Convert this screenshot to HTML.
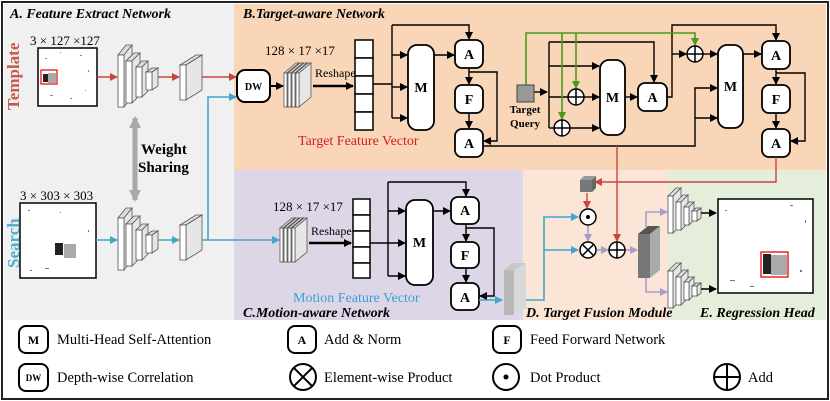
<!DOCTYPE html>
<html><head><meta charset="utf-8"><style>
html,body{margin:0;padding:0;background:#fff;}
svg{display:block;font-family:"Liberation Serif",serif;}
.b{font-weight:bold;}
.t{font-weight:bold;font-style:italic;font-size:14px;}
</style></head><body>
<svg width="830" height="401" viewBox="0 0 830 401" xmlns="http://www.w3.org/2000/svg">
<defs>
<marker id="k" markerWidth="8" markerHeight="8" refX="7" refY="4" orient="auto" markerUnits="userSpaceOnUse"><path d="M0,0 L8,4 L0,8 z" fill="#000"/></marker>
<marker id="r" markerWidth="8" markerHeight="8" refX="7" refY="4" orient="auto" markerUnits="userSpaceOnUse"><path d="M0,0 L8,4 L0,8 z" fill="#c8463c"/></marker>
<marker id="c" markerWidth="8" markerHeight="8" refX="7" refY="4" orient="auto" markerUnits="userSpaceOnUse"><path d="M0,0 L8,4 L0,8 z" fill="#3fa8c8"/></marker>
<marker id="g" markerWidth="8" markerHeight="8" refX="7" refY="4" orient="auto" markerUnits="userSpaceOnUse"><path d="M0,0 L8,4 L0,8 z" fill="#4a9a1c"/></marker>
<marker id="p" markerWidth="8" markerHeight="8" refX="7" refY="4" orient="auto" markerUnits="userSpaceOnUse"><path d="M0,0 L8,4 L0,8 z" fill="#a89ccc"/></marker>
<marker id="gr" markerWidth="12" markerHeight="12" refX="10" refY="6" orient="auto" markerUnits="userSpaceOnUse"><path d="M0,0 L12,6 L0,12 z" fill="#a8a8a8"/></marker>
</defs>
<!-- backgrounds -->
<rect x="0" y="0" width="830" height="401" fill="#fff"/>
<rect x="4" y="4" width="230" height="316" fill="#f0f0f0"/>
<rect x="234" y="4" width="592" height="166" fill="#fad6b8"/>
<rect x="234" y="170" width="289" height="150" fill="#ddd6e6"/>
<rect x="523" y="170" width="145" height="150" fill="#fbe5d6"/>
<rect x="668" y="170" width="158" height="150" fill="#e4eedb"/>
<rect x="2" y="2" width="826" height="397" fill="none" stroke="#222" stroke-width="2"/>

<!-- titles -->
<text x="10" y="18" class="t">A. Feature Extract Network</text>
<text x="243" y="18" class="t">B.Target-aware Network</text>
<text x="243" y="317" class="t">C.Motion-aware Network</text>
<text x="526" y="317" class="t">D. Target Fusion Module</text>
<text x="700" y="317" class="t">E. Regression Head</text>

<!-- Template / Search labels -->
<text transform="translate(19,110) rotate(-90)" font-size="17" class="b" fill="#c8584c">Template</text>
<text transform="translate(19,268) rotate(-90)" font-size="17" class="b" fill="#4ab0cc">Search</text>
<text x="30" y="45" font-size="13">3 × 127 ×127</text>
<text x="20" y="200" font-size="13">3 × 303 × 303</text>

<!-- template image -->
<rect x="38" y="48" width="59" height="58" fill="#fff" stroke="#000" stroke-width="1.5"/>
<g fill="#888"><rect x="45" y="58" width="2" height="1"/><rect x="60" y="52" width="1" height="1"/><rect x="80" y="55" width="2" height="1"/><rect x="88" y="70" width="1" height="2"/><rect x="50" y="95" width="3" height="1"/><rect x="70" y="98" width="2" height="1"/><rect x="85" y="90" width="1" height="1"/></g>
<rect x="43" y="74" width="5" height="8" fill="#222"/><rect x="48" y="73" width="8" height="10" fill="#aaa"/>
<rect x="41" y="70" width="16" height="14" fill="none" stroke="#e00" stroke-width="1.2"/>
<!-- search image -->
<rect x="20" y="203" width="76" height="75" fill="#fff" stroke="#000" stroke-width="1.5"/>
<rect x="55" y="243" width="8" height="12" fill="#222"/><rect x="64" y="244" width="12" height="14" fill="#aaa"/>
<g fill="#777"><rect x="28" y="210" width="2" height="1"/><rect x="60" y="212" width="1" height="1"/><rect x="88" y="230" width="1" height="2"/><rect x="45" y="268" width="4" height="1"/><rect x="30" y="270" width="2" height="1"/></g>

<!-- backbone template -->
<g stroke="#555" stroke-width="0.8">
<polygon points="118,55 126,45 132,45 124,55" fill="#ddd"/><polygon points="124,55 132,45 132,97 124,107" fill="#e6e6e6"/><rect x="118" y="55" width="6" height="52" fill="#fff"/>
<polygon points="126,61 134,53 140,53 132,61" fill="#ddd"/><polygon points="132,61 140,53 140,95 132,103" fill="#e6e6e6"/><rect x="126" y="61" width="6" height="42" fill="#fff"/>
<polygon points="136,67 142,61 148,61 142,67" fill="#ddd"/><polygon points="142,67 148,61 148,91 142,97" fill="#e6e6e6"/><rect x="136" y="67" width="6" height="30" fill="#fff"/>
<polygon points="146,72 152,68 158,68 152,72" fill="#ddd"/><polygon points="152,72 158,68 158,86 152,90" fill="#e6e6e6"/><rect x="146" y="72" width="6" height="18" fill="#fff"/>
<!-- single plate -->
<polygon points="180,65 196,55 202,55 186,65" fill="#ddd"/><polygon points="186,65 202,55 202,90 186,100" fill="#e6e6e6"/><rect x="180" y="65" width="6" height="35" fill="#fff"/>
</g>
<!-- backbone search -->
<g stroke="#555" stroke-width="0.8">
<polygon points="118,218 126,208 132,208 124,218" fill="#ddd"/><polygon points="124,218 132,208 132,260 124,270" fill="#e6e6e6"/><rect x="118" y="218" width="6" height="52" fill="#fff"/>
<polygon points="126,224 134,216 140,216 132,224" fill="#ddd"/><polygon points="132,224 140,216 140,258 132,266" fill="#e6e6e6"/><rect x="126" y="224" width="6" height="42" fill="#fff"/>
<polygon points="136,230 142,224 148,224 142,230" fill="#ddd"/><polygon points="142,230 148,224 148,254 142,260" fill="#e6e6e6"/><rect x="136" y="230" width="6" height="30" fill="#fff"/>
<polygon points="146,235 152,231 158,231 152,235" fill="#ddd"/><polygon points="152,235 158,231 158,249 152,253" fill="#e6e6e6"/><rect x="146" y="235" width="6" height="18" fill="#fff"/>
<polygon points="180,225 196,215 202,215 186,225" fill="#ddd"/><polygon points="186,225 202,215 202,250 186,260" fill="#e6e6e6"/><rect x="180" y="225" width="6" height="35" fill="#fff"/>
</g>
<!-- weight sharing -->
<line x1="135" y1="120" x2="135" y2="200" stroke="#a8a8a8" stroke-width="5" marker-end="url(#gr)"/>
<line x1="135" y1="200" x2="135" y2="118" stroke="#a8a8a8" stroke-width="5" marker-end="url(#gr)"/>
<text x="141" y="154" font-size="15" class="b">Weight</text>
<text x="138" y="172" font-size="15" class="b">Sharing</text>

<!-- red template arrows -->
<g stroke="#c8463c" stroke-width="1.6" fill="none">
<line x1="97" y1="77" x2="117" y2="77" marker-end="url(#r)"/>
<line x1="158" y1="77" x2="179" y2="77" marker-end="url(#r)"/>
<line x1="202" y1="77" x2="236" y2="77" marker-end="url(#r)"/>
</g>
<!-- cyan search arrows -->
<g stroke="#3fa8c8" stroke-width="1.6" fill="none">
<line x1="96" y1="240" x2="117" y2="240" marker-end="url(#c)"/>
<line x1="158" y1="240" x2="179" y2="240" marker-end="url(#c)"/>
<polyline points="202,240 208,240 208,97 236,97" marker-end="url(#c)"/>
<line x1="208" y1="240" x2="279" y2="240" marker-end="url(#c)"/>
</g>

<!-- DW -->
<rect x="237" y="70" width="33" height="32" rx="8" fill="#fff" stroke="#000" stroke-width="2"/>
<text x="253.5" y="90" font-size="10" class="b" text-anchor="middle">DW</text>
<line x1="270" y1="86" x2="283" y2="86" stroke="#000" stroke-width="2" marker-end="url(#k)"/>

<!-- feature stacks -->
<g stroke="#555" stroke-width="0.8">
<g id="st1">
<polygon points="284,73 296,63 299,63 287,73" fill="#ddd"/><polygon points="287,73 299,63 299,97 287,107" fill="#e6e6e6"/><rect x="284" y="73" width="3" height="34" fill="#fff"/>
</g>
<g transform="translate(4,0)"><polygon points="284,73 296,63 299,63 287,73" fill="#ddd"/><polygon points="287,73 299,63 299,97 287,107" fill="#e6e6e6"/><rect x="284" y="73" width="3" height="34" fill="#fff"/></g>
<g transform="translate(8,0)"><polygon points="284,73 296,63 299,63 287,73" fill="#ddd"/><polygon points="287,73 299,63 299,97 287,107" fill="#e6e6e6"/><rect x="284" y="73" width="3" height="34" fill="#fff"/></g>
<g transform="translate(12,0)"><polygon points="284,73 296,63 299,63 287,73" fill="#ddd"/><polygon points="287,73 299,63 299,97 287,107" fill="#e6e6e6"/><rect x="284" y="73" width="3" height="34" fill="#fff"/></g>
<g transform="translate(-4,155)"><polygon points="284,73 296,63 299,63 287,73" fill="#ddd"/><polygon points="287,73 299,63 299,97 287,107" fill="#e6e6e6"/><rect x="284" y="73" width="3" height="34" fill="#fff"/></g>
<g transform="translate(0,155)"><polygon points="284,73 296,63 299,63 287,73" fill="#ddd"/><polygon points="287,73 299,63 299,97 287,107" fill="#e6e6e6"/><rect x="284" y="73" width="3" height="34" fill="#fff"/></g>
<g transform="translate(4,155)"><polygon points="284,73 296,63 299,63 287,73" fill="#ddd"/><polygon points="287,73 299,63 299,97 287,107" fill="#e6e6e6"/><rect x="284" y="73" width="3" height="34" fill="#fff"/></g>
<g transform="translate(8,155)"><polygon points="284,73 296,63 299,63 287,73" fill="#ddd"/><polygon points="287,73 299,63 299,97 287,107" fill="#e6e6e6"/><rect x="284" y="73" width="3" height="34" fill="#fff"/></g>
</g>
<text x="265" y="55" font-size="13">128 × 17 ×17</text>
<text x="273" y="211" font-size="13">128 × 17 ×17</text>
<text x="315" y="77" font-size="12">Reshape</text>
<text x="311" y="235" font-size="12">Reshape</text>
<line x1="313" y1="86" x2="353" y2="86" stroke="#000" stroke-width="2.5" marker-end="url(#k)"/>
<line x1="309" y1="243" x2="351" y2="243" stroke="#000" stroke-width="2.5" marker-end="url(#k)"/>

<!-- vectors -->
<g fill="#fff" stroke="#000" stroke-width="1.5">
<rect x="355" y="40" width="18" height="18"/><rect x="355" y="58" width="18" height="18"/><rect x="355" y="76" width="18" height="18"/><rect x="355" y="94" width="18" height="18"/><rect x="355" y="112" width="18" height="18"/>
<rect x="353" y="199" width="17" height="16"/><rect x="353" y="215" width="17" height="16"/><rect x="353" y="231" width="17" height="16"/><rect x="353" y="247" width="17" height="16"/><rect x="353" y="263" width="17" height="15"/>
</g>
<text x="298" y="145" font-size="14" fill="#d42020">Target Feature Vector</text>
<text x="293" y="302" font-size="14" fill="#3a9fd6">Motion Feature Vector</text>

<!-- black connectors B -->
<g stroke="#000" stroke-width="1.4" fill="none">
<polyline points="373,84 392,84"/>
<line x1="392" y1="25" x2="392" y2="118"/>
<polyline points="392,25 469,25 469,39" marker-end="url(#k)"/>
<line x1="392" y1="55" x2="407" y2="55" marker-end="url(#k)"/>
<line x1="392" y1="87" x2="407" y2="87" marker-end="url(#k)"/>
<line x1="392" y1="118" x2="407" y2="118" marker-end="url(#k)"/>
<line x1="434" y1="55" x2="454" y2="55" marker-end="url(#k)"/>
<line x1="469" y1="68" x2="469" y2="84" marker-end="url(#k)"/>
<line x1="469" y1="113" x2="469" y2="128" marker-end="url(#k)"/>
<polyline points="469,72 497,72 497,141 484,141" marker-end="url(#k)"/>
<polyline points="483,146 695,146 695,88 717,88" marker-end="url(#k)"/>
<line x1="695" y1="118" x2="717" y2="118" marker-end="url(#k)"/>
<!-- target query -->
<line x1="534" y1="92" x2="547" y2="92" marker-end="url(#k)"/>
<line x1="549" y1="42" x2="549" y2="128"/>
<polyline points="549,42 654,42 654,82" marker-end="url(#k)"/>
<line x1="549" y1="66" x2="599" y2="66" marker-end="url(#k)"/>
<line x1="549" y1="97" x2="568" y2="97"/>
<line x1="584" y1="97" x2="599" y2="97" marker-end="url(#k)"/>
<line x1="549" y1="128" x2="554" y2="128"/>
<line x1="570" y1="128" x2="599" y2="128" marker-end="url(#k)"/>
<line x1="625" y1="97" x2="637" y2="97" marker-end="url(#k)"/>
<polyline points="667,97 672,97 672,25 776,25 776,40" marker-end="url(#k)"/>
<line x1="672" y1="54" x2="686" y2="54" marker-end="url(#k)"/>
<line x1="703" y1="54" x2="717" y2="54" marker-end="url(#k)"/>
<line x1="743" y1="54" x2="761" y2="54" marker-end="url(#k)"/>
<line x1="776" y1="69" x2="776" y2="84" marker-end="url(#k)"/>
<line x1="776" y1="113" x2="776" y2="128" marker-end="url(#k)"/>
<polyline points="776,73 805,73 805,141 791,141" marker-end="url(#k)"/>
</g>
<!-- black connectors C -->
<g stroke="#000" stroke-width="1.4" fill="none">
<line x1="370" y1="243" x2="388" y2="243"/>
<line x1="388" y1="182" x2="388" y2="276"/>
<polyline points="388,182 466,182 466,196" marker-end="url(#k)"/>
<line x1="388" y1="211" x2="405" y2="211" marker-end="url(#k)"/>
<line x1="388" y1="243" x2="405" y2="243" marker-end="url(#k)"/>
<line x1="388" y1="276" x2="405" y2="276" marker-end="url(#k)"/>
<line x1="433" y1="211" x2="450" y2="211" marker-end="url(#k)"/>
<line x1="466" y1="224" x2="466" y2="241" marker-end="url(#k)"/>
<line x1="466" y1="268" x2="466" y2="282" marker-end="url(#k)"/>
<polyline points="466,228 494,228 494,296 480,296" marker-end="url(#k)"/>
</g>

<!-- green -->
<g stroke="#4a9a1c" stroke-width="1.6" fill="none">
<polyline points="526,85 526,33 695,33 695,45" marker-end="url(#g)"/>
<line x1="562" y1="33" x2="562" y2="119" marker-end="url(#g)"/>
<line x1="576" y1="33" x2="576" y2="88" marker-end="url(#g)"/>
</g>

<!-- boxes -->
<g fill="#fff" stroke="#000" stroke-width="1.8">
<rect x="408" y="45" width="26" height="85" rx="9"/>
<rect x="455" y="40" width="28" height="28" rx="7"/>
<rect x="455" y="85" width="28" height="28" rx="7"/>
<rect x="455" y="129" width="28" height="28" rx="7"/>
<rect x="600" y="60" width="25" height="75" rx="9"/>
<rect x="638" y="83" width="29" height="28" rx="7"/>
<rect x="718" y="45" width="25" height="83" rx="9"/>
<rect x="762" y="41" width="28" height="28" rx="7"/>
<rect x="762" y="85" width="28" height="28" rx="7"/>
<rect x="762" y="129" width="28" height="28" rx="7"/>
<rect x="406" y="200" width="27" height="85" rx="9"/>
<rect x="451" y="197" width="28" height="27" rx="7"/>
<rect x="451" y="242" width="28" height="26" rx="7"/>
<rect x="451" y="283" width="28" height="27" rx="7"/>
</g>
<g font-size="14" class="b" text-anchor="middle">
<text x="421" y="92">M</text><text x="469" y="59">A</text><text x="469" y="104">F</text><text x="469" y="148">A</text>
<text x="612.5" y="102">M</text><text x="652.5" y="102">A</text>
<text x="730.5" y="91">M</text><text x="776" y="60">A</text><text x="776" y="104">F</text><text x="776" y="148">A</text>
<text x="419.5" y="247">M</text><text x="465" y="215">A</text><text x="465" y="260">F</text><text x="465" y="302">A</text>
</g>
<!-- target query square -->
<rect x="517" y="85" width="17" height="17" fill="#999" stroke="#444" stroke-width="1"/>
<text x="525" y="113" font-size="11" class="b" text-anchor="middle">Target</text>
<text x="525" y="127" font-size="11" class="b" text-anchor="middle">Query</text>
<!-- plus circles B -->
<g fill="#fff" stroke="#000" stroke-width="1.5">
<circle cx="576" cy="97" r="8"/><circle cx="562" cy="128" r="8"/><circle cx="695" cy="54" r="8"/>
</g>
<g stroke="#000" stroke-width="1.5">
<line x1="568" y1="97" x2="584" y2="97"/><line x1="576" y1="89" x2="576" y2="105"/>
<line x1="554" y1="128" x2="570" y2="128"/><line x1="562" y1="120" x2="562" y2="136"/>
<line x1="687" y1="54" x2="703" y2="54"/><line x1="695" y1="46" x2="695" y2="62"/>
</g>

<!-- red to D -->
<g stroke="#c8463c" stroke-width="1.4" fill="none">
<line x1="617" y1="146" x2="617" y2="241" marker-end="url(#r)"/>
<polyline points="776,157 776,182 595,182" marker-end="url(#r)"/>
<line x1="587" y1="193" x2="587" y2="208" marker-end="url(#r)"/>
</g>
<!-- cube -->
<polygon points="580,180 584,176 596,176 592,180" fill="#999"/><polygon points="592,180 596,176 596,188 592,192" fill="#666"/><rect x="580" y="180" width="12" height="12" fill="#777"/>
<!-- gray block C -->
<polygon points="504,270 512,263 526,263 518,270" fill="#c8c8c8"/><polygon points="514,270 526,263 526,308 514,315" fill="#d8d8d8"/><rect x="504" y="270" width="10" height="45" fill="#b8b8b8"/>
<line x1="479" y1="300" x2="502" y2="300" stroke="#3fa8c8" stroke-width="1.6" marker-end="url(#c)"/>
<!-- cyan D -->
<g stroke="#3fa8c8" stroke-width="1.6" fill="none">
<polyline points="526,300 544,300 544,217 578,217" marker-end="url(#c)"/>
<line x1="544" y1="250" x2="578" y2="250" marker-end="url(#c)"/>
</g>
<!-- purple -->
<g stroke="#a89ccc" stroke-width="1.6" fill="none">
<line x1="588" y1="225" x2="588" y2="241" marker-end="url(#p)"/>
<line x1="597" y1="250" x2="608" y2="250" marker-end="url(#p)"/>
<line x1="626" y1="250" x2="637" y2="250" marker-end="url(#p)"/>
<polyline points="646,227 646,212 667,212" marker-end="url(#p)"/>
<polyline points="646,278 646,292 667,292" marker-end="url(#p)"/>
</g>
<!-- D circles -->
<g fill="#fff" stroke="#000" stroke-width="1.5">
<circle cx="588" cy="217" r="8"/><circle cx="588" cy="250" r="8"/><circle cx="617" cy="250" r="8"/>
</g>
<circle cx="588" cy="217" r="2" fill="#000"/>
<g stroke="#000" stroke-width="1.5">
<line x1="582.3" y1="244.3" x2="593.7" y2="255.7"/><line x1="593.7" y1="244.3" x2="582.3" y2="255.7"/>
<line x1="609" y1="250" x2="625" y2="250"/><line x1="617" y1="242" x2="617" y2="258"/>
</g>
<!-- big dark block -->
<polygon points="638,234 648,226 660,226 650,234" fill="#555"/><polygon points="650,234 660,226 660,270 650,278" fill="#aaa"/><rect x="638" y="234" width="12" height="44" fill="#777"/>

<!-- heads -->
<g stroke="#555" stroke-width="0.8">
<g id="hd">
<polygon points="668,196 676,188 681,188 673,196" fill="#ddd"/><polygon points="673,196 681,188 681,225 673,233" fill="#e6e6e6"/><rect x="668" y="196" width="5" height="37" fill="#fff"/>
<polygon points="676,202 683,195 688,195 681,202" fill="#ddd"/><polygon points="681,202 688,195 688,223 681,230" fill="#e6e6e6"/><rect x="676" y="202" width="5" height="28" fill="#fff"/>
<polygon points="684,207 689,202 694,202 689,207" fill="#ddd"/><polygon points="689,207 694,202 694,220 689,225" fill="#e6e6e6"/><rect x="684" y="207" width="5" height="18" fill="#fff"/>
<polygon points="692,211 696,208 701,208 697,211" fill="#ddd"/><polygon points="697,211 701,208 701,218 697,221" fill="#e6e6e6"/><rect x="692" y="211" width="5" height="10" fill="#fff"/>
</g>
<g transform="translate(0,75)">
<polygon points="668,196 676,188 681,188 673,196" fill="#ddd"/><polygon points="673,196 681,188 681,225 673,233" fill="#e6e6e6"/><rect x="668" y="196" width="5" height="37" fill="#fff"/>
<polygon points="676,202 683,195 688,195 681,202" fill="#ddd"/><polygon points="681,202 688,195 688,223 681,230" fill="#e6e6e6"/><rect x="676" y="202" width="5" height="28" fill="#fff"/>
<polygon points="684,207 689,202 694,202 689,207" fill="#ddd"/><polygon points="689,207 694,202 694,220 689,225" fill="#e6e6e6"/><rect x="684" y="207" width="5" height="18" fill="#fff"/>
<polygon points="692,211 696,208 701,208 697,211" fill="#ddd"/><polygon points="697,211 701,208 701,218 697,221" fill="#e6e6e6"/><rect x="692" y="211" width="5" height="10" fill="#fff"/>
</g>
</g>
<line x1="701" y1="213" x2="716" y2="213" stroke="#000" stroke-width="1.5" marker-end="url(#k)"/>
<line x1="701" y1="289" x2="716" y2="289" stroke="#000" stroke-width="1.5" marker-end="url(#k)"/>
<!-- result image -->
<rect x="718" y="199" width="95" height="94" fill="#fff" stroke="#000" stroke-width="1.5"/>
<rect x="763" y="254" width="8" height="20" fill="#222"/><rect x="771" y="255" width="16" height="20" fill="#aaa"/>
<g fill="#777"><rect x="725" y="210" width="2" height="1"/><rect x="790" y="205" width="3" height="1"/><rect x="805" y="220" width="1" height="3"/><rect x="730" y="280" width="5" height="1"/><rect x="750" y="286" width="4" height="1"/><rect x="800" y="270" width="2" height="2"/></g>
<rect x="761" y="252" width="27" height="25" fill="none" stroke="#e00" stroke-width="1.3"/>

<!-- legend -->
<g fill="#fff" stroke="#000" stroke-width="2">
<rect x="19" y="326" width="29" height="27" rx="7"/>
<rect x="288" y="326" width="28" height="27" rx="7"/>
<rect x="493" y="326" width="28" height="27" rx="7"/>
<rect x="19" y="364" width="29" height="27" rx="7"/>
<circle cx="303" cy="377" r="13"/>
<circle cx="506" cy="377" r="13"/>
<circle cx="727" cy="377" r="13"/>
</g>
<g stroke="#000" stroke-width="2">
<line x1="293.8" y1="367.8" x2="312.2" y2="386.2"/><line x1="312.2" y1="367.8" x2="293.8" y2="386.2"/>
<line x1="714" y1="377" x2="740" y2="377"/><line x1="727" y1="364" x2="727" y2="390"/>
</g>
<circle cx="506" cy="377" r="2.5" fill="#000"/>
<g font-size="12" class="b" text-anchor="middle">
<text x="33.5" y="344">M</text><text x="302" y="344">A</text><text x="507" y="344">F</text>
<text x="33.5" y="381" font-size="9">DW</text>
</g>
<g font-size="14.5">
<text x="57" y="344">Multi-Head Self-Attention</text>
<text x="324" y="344">Add &amp; Norm</text>
<text x="530" y="344">Feed Forward Network</text>
<text x="57" y="382">Depth-wise Correlation</text>
<text x="324" y="382">Element-wise Product</text>
<text x="530" y="382">Dot Product</text>
<text x="748" y="382">Add</text>
</g>
</svg>
</body></html>
